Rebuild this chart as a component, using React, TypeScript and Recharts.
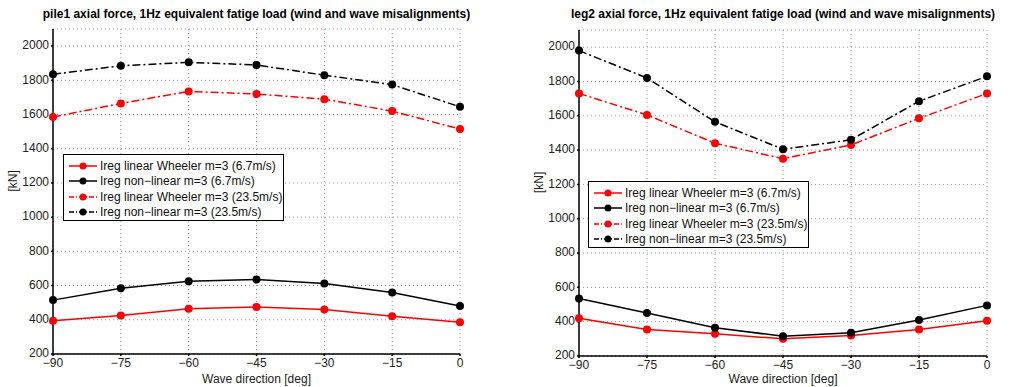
import React from 'react';
import { LineChart, Line, XAxis, YAxis, CartesianGrid } from 'recharts';

// wave directions [deg]
const directions = [-90, -75, -60, -45, -30, -15, 0];
const yTicks = [200, 400, 600, 800, 1000, 1200, 1400, 1600, 1800, 2000];

// pile1 axial force [kN]
const pileLinLow = [395, 425, 465, 475, 460, 420, 385];
const pileNonLow = [515, 585, 625, 635, 612, 560, 480];
const pileLinHigh = [1585, 1665, 1735, 1720, 1690, 1620, 1515];
const pileNonHigh = [1835, 1885, 1905, 1890, 1830, 1775, 1645];

// leg2 axial force [kN]
const legLinLow = [420, 355, 330, 300, 320, 355, 405];
const legNonLow = [535, 450, 365, 315, 335, 410, 495];
const legLinHigh = [1730, 1605, 1440, 1350, 1430, 1585, 1730];
const legNonHigh = [1980, 1820, 1565, 1405, 1460, 1685, 1830];

const seriesNames = [
  'Ireg linear Wheeler m=3 (6.7m/s)',
  'Ireg non\u2212linear m=3 (6.7m/s)',
  'Ireg linear Wheeler m=3 (23.5m/s)',
  'Ireg non\u2212linear m=3 (23.5m/s)',
];

const FONT = '"Liberation Sans", Arial, Helvetica, sans-serif';
const DASHDOT = '8 3 2 3';

const styles = [
  { color: '#ff0000', dash: undefined },
  { color: '#000000', dash: undefined },
  { color: '#ff0000', dash: DASHDOT },
  { color: '#000000', dash: DASHDOT },
];

const buildRows = (a: number[], b: number[], c: number[], d: number[]) =>
  directions.map((dir, i) => ({ dir, s0: a[i], s1: b[i], s2: c[i], s3: d[i] }));

const pileData = buildRows(pileLinLow, pileNonLow, pileLinHigh, pileNonHigh);
const legData = buildRows(legLinLow, legNonLow, legLinHigh, legNonHigh);

const minus = (v: number) => String(v).replace('-', '\u2212');

// legend box drawn like the MATLAB one, laid over the plot
const LegendBox = ({ left, top }: { left: number; top: number }) => (
  <div
    style={{
      position: 'absolute',
      left,
      top,
      border: '1px solid #000',
      background: '#fff',
      width: 221,
      height: 67,
      boxSizing: 'border-box',
      padding: '3px 0 0 4px',
      fontFamily: FONT,
      fontSize: 12,
      color: '#111',
      whiteSpace: 'nowrap',
    }}
  >
    {seriesNames.map((name, i) => (
      <div key={name} style={{ display: 'flex', alignItems: 'center', height: 15.5 }}>
        <svg width={30} height={10} style={{ marginRight: 2, flexShrink: 0 }}>
          <line x1={1} y1={5} x2={29} y2={5} stroke={styles[i].color} strokeWidth={1.5}
            strokeDasharray={styles[i].dash ? '5 2 1 2' : undefined} />
          <circle cx={15} cy={5} r={3.5} fill={styles[i].color} />
        </svg>
        <span>{name}</span>
      </div>
    ))}
  </div>
);

interface PanelProps {
  title: string;
  data: typeof pileData;
  left: number;
  yWidth: number;
  width: number;
  marginTop: number;
  marginRight: number;
  xHeight: number;
  legendPos: { left: number; top: number };
}

const Panel = ({ title, data, left, yWidth, width, marginTop, marginRight, xHeight, legendPos }: PanelProps) => {
  const plotCenter = yWidth + (width - yWidth - marginRight) / 2;
  return (
    <div style={{ position: 'absolute', left, top: 0, width, height: 387 }}>
      <div
        style={{
          position: 'absolute',
          top: 7,
          left: plotCenter - 250,
          width: 500,
          textAlign: 'center',
          fontFamily: FONT,
          fontWeight: 'bold',
          fontSize: 12,
          color: '#000',
        }}
      >
        {title}
      </div>
      <LineChart
        width={width}
        height={387}
        data={data}
        margin={{ top: marginTop, right: marginRight, bottom: 0, left: 0 }}
      >
        <CartesianGrid stroke="#9a9a9a" strokeDasharray="1 3" />
        <XAxis
          dataKey="dir"
          type="number"
          domain={[-90, 0]}
          ticks={directions}
          tickFormatter={minus}
          stroke="#000"
          strokeWidth={1.5}
          tickSize={2}
          height={xHeight}
          tick={{ fill: '#222', fontSize: 12, fontFamily: FONT }}
          label={{ value: 'Wave direction [deg]', position: 'insideBottom', offset: 4, fill: '#222', fontSize: 12, fontFamily: FONT }}
        />
        <XAxis xAxisId="top" dataKey="dir" type="number" domain={[-90, 0]} orientation="top"
          stroke="#000" strokeWidth={1.5} tick={false} height={0} />
        <YAxis
          type="number"
          domain={[200, 2100]}
          ticks={yTicks}
          width={yWidth}
          stroke="#000"
          strokeWidth={1.5}
          tickSize={2}
          allowDataOverflow
          tick={{ fill: '#222', fontSize: 12, fontFamily: FONT, dy: -1 }}
          label={{ value: '[kN]', angle: -90, position: 'insideLeft', offset: yWidth - 40, fill: '#222', fontSize: 12, fontFamily: FONT }}
        />
        <YAxis yAxisId="right" orientation="right" type="number" domain={[200, 2100]}
          stroke="#000" strokeWidth={1.5} tick={false} width={0} />
        {styles.map((s, i) => (
          <Line
            key={i}
            dataKey={`s${i}`}
            name={seriesNames[i]}
            stroke={s.color}
            strokeWidth={1.5}
            strokeDasharray={s.dash}
            dot={{ r: 4, fill: s.color, stroke: s.color, strokeWidth: 0 }}
            isAnimationActive={false}
          />
        ))}
      </LineChart>
      <LegendBox left={legendPos.left} top={legendPos.top} />
    </div>
  );
};

export default function App() {
  return (
    <div style={{ position: 'absolute', left: 0, top: 0, width: 1010, height: 387, background: '#fff' }}>
      <Panel
        title="pile1 axial force, 1Hz equivalent fatige load (wind and wave misalignments)"
        data={pileData}
        left={0}
        yWidth={53}
        width={500}
        marginTop={29}
        marginRight={40}
        xHeight={33}
        legendPos={{ left: 63, top: 154 }}
      />
      <Panel
        title="leg2 axial force, 1Hz equivalent fatige load (wind and wave misalignments)"
        data={legData}
        left={505}
        yWidth={74}
        width={505}
        marginTop={30}
        marginRight={23}
        xHeight={31}
        legendPos={{ left: 83, top: 181 }}
      />
    </div>
  );
}
